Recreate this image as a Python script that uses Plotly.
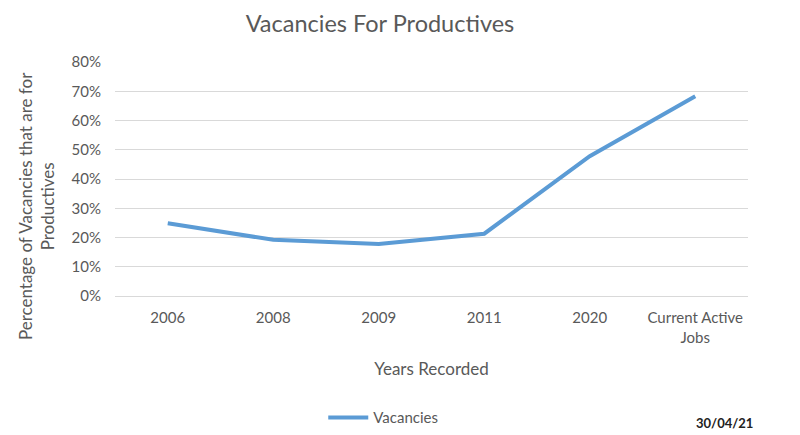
import plotly.graph_objects as go

categories = ["2006", "2008", "2009", "2011", "2020", "Current Active<br>Jobs"]
vacancies = [0.249, 0.192, 0.178, 0.213, 0.478, 0.683]
y_ticks = [0, 0.1, 0.2, 0.3, 0.4, 0.5, 0.6, 0.7, 0.8]

FONT = "Lato, Carlito, 'Open Sans', sans-serif"
GREY = "#595959"

fig = go.Figure()
fig.add_trace(go.Scatter(
    x=list(range(len(categories))), y=vacancies, mode="lines", name="Vacancies",
    line=dict(color="#5B9BD5", width=4),
))

fig.update_layout(
    width=800, height=435,
    margin=dict(l=115, r=52, t=62, b=139, autoexpand=False),
    paper_bgcolor="white", plot_bgcolor="white",
    font=dict(family=FONT, color=GREY, size=15),
    title=dict(text="Vacancies For Productives", x=0.475, xanchor="center",
               y=0.945, yanchor="middle", font=dict(size=23.5, color=GREY)),
    showlegend=True,
    legend=dict(orientation="h", x=0.329, xanchor="left", y=-0.45, yanchor="top",
                font=dict(size=15, color=GREY), itemwidth=40),
    xaxis=dict(
        tickmode="array", tickvals=list(range(len(categories))), ticktext=categories,
        range=[-0.5, len(categories) - 0.5], showgrid=False,
        showline=True, linecolor="#D9D9D9", linewidth=1,
        ticks="outside", ticklen=8, tickcolor="rgba(0,0,0,0)",
        title=dict(text="Years Recorded", font=dict(size=17, color=GREY), standoff=18),
        zeroline=False,
    ),
    yaxis=dict(
        range=[0, 0.8], tickvals=y_ticks, tickformat=".0%",
        showgrid=True, gridcolor="#D9D9D9", gridwidth=1, zeroline=False,
        ticks="outside", ticklen=10, tickcolor="rgba(0,0,0,0)",
    ),
)

fig.add_annotation(text="Percentage of Vacancies that are for<br>Productives",
                   xref="paper", yref="paper", x=-0.123, y=0.385,
                   xanchor="center", yanchor="middle", textangle=-90,
                   showarrow=False, font=dict(size=17, color=GREY))

fig.add_annotation(text="<b>30/04/21</b>", xref="paper", yref="paper",
                   x=1.011, y=-0.543, xanchor="right", yanchor="middle",
                   showarrow=False, font=dict(size=13, color="#222222"))

fig.write_html("out.html")
